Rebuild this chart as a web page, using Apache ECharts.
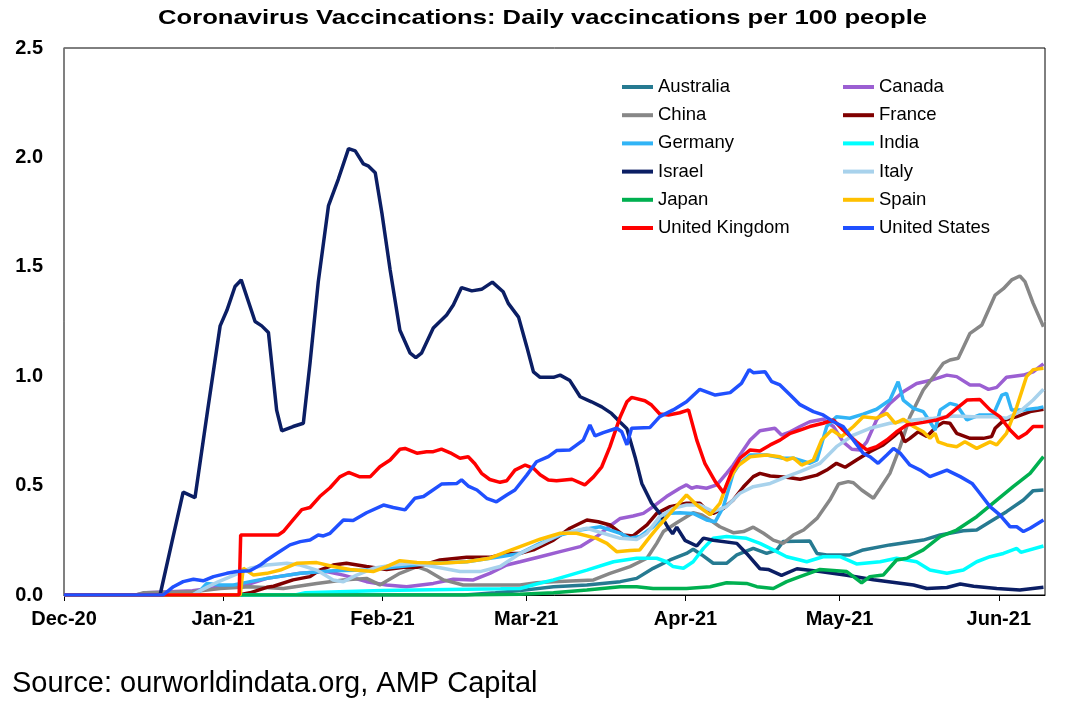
<!DOCTYPE html>
<html>
<head>
<meta charset="utf-8">
<script src="https://cdn.jsdelivr.net/npm/echarts@6/dist/echarts.min.js"></script>
<style>
  html, body { margin: 0; padding: 0; background: #fff; }
  #chart { width: 1073px; height: 715px; }
</style>
</head>
<body>
<div id="chart"></div>
<script>
// x values are days since 1 Dec 2020
const monthDays = [0, 31, 62, 90, 121, 151, 182]
const monthLabels = ['Dec-20', 'Jan-21', 'Feb-21', 'Mar-21', 'Apr-21', 'May-21', 'Jun-21']

const countries = ['Australia', 'Canada', 'China', 'France', 'Germany', 'India',
    'Israel', 'Italy', 'Japan', 'Spain', 'United Kingdom', 'United States']
const colors = ['#267a91', '#9b5fd2', '#878787', '#800000', '#31b4f6', '#00ffff',
    '#0b1e64', '#a8d2ec', '#00b050', '#ffc000', '#ff0000', '#2050ff']

const australia = [[0,0],[78,0],[84,0.01],[88.8,0.02],[95.3,0.038],[101.8,0.046],[108.3,0.061],[111.5,0.076],[114.7,0.122],[118,0.16],[121.2,0.19],[122.5,0.209],[124.2,0.183],[126.4,0.145],[129,0.145],[131,0.183],[134.2,0.213],[136.8,0.19],[138.8,0.206],[140,0.244],[145.2,0.247],[146.6,0.19],[148.5,0.183],[153,0.183],[155.6,0.206],[160.8,0.229],[167.3,0.251],[170.6,0.274],[175.1,0.294],[177.7,0.297],[180.3,0.335],[183.5,0.381],[186.8,0.434],[188.7,0.477],[190.7,0.48]]

const canada = [[0,0],[14,0],[16,0.01],[25,0.02],[30,0.035],[36,0.05],[39.5,0.076],[46,0.099],[51.1,0.107],[54.4,0.091],[58.9,0.061],[62.8,0.046],[66.7,0.038],[71.9,0.053],[75.8,0.072],[79.7,0.069],[82.9,0.099],[86.2,0.137],[88.8,0.152],[92.7,0.175],[96.6,0.198],[100.5,0.221],[103.7,0.267],[105.7,0.305],[108.3,0.35],[110.8,0.361],[112.8,0.373],[114.7,0.404],[117.3,0.45],[119.9,0.488],[121.2,0.503],[122.2,0.488],[123.2,0.495],[125.1,0.488],[127.1,0.503],[129,0.556],[130.3,0.594],[131.6,0.64],[133.6,0.708],[135.5,0.751],[138.4,0.762],[139.7,0.731],[141.4,0.746],[143.3,0.77],[145.2,0.792],[147.8,0.803],[149.8,0.77],[151.7,0.70],[153.4,0.666],[155,0.663],[156.3,0.70],[158.2,0.80],[160.8,0.876],[163.4,0.929],[166,0.967],[168.6,0.98],[171.9,1.005],[173.8,0.998],[176.4,0.96],[178.3,0.96],[180,0.94],[181.6,0.949],[183.5,0.995],[186.8,1.005],[188.7,1.02],[190.7,1.056]]

const china = [[0,0],[14,0],[15.4,0.01],[25,0.015],[30.4,0.03],[36.2,0.038],[42.7,0.03],[49.2,0.053],[54.4,0.069],[58.9,0.076],[61.5,0.046],[65.4,0.099],[68.7,0.13],[70.6,0.114],[73.9,0.069],[77.7,0.046],[84.9,0.046],[88.8,0.046],[92,0.056],[95.3,0.061],[103.1,0.069],[106.3,0.099],[110.2,0.13],[113.5,0.168],[115.4,0.236],[116.7,0.29],[119.3,0.33],[121.2,0.358],[122.5,0.376],[124.2,0.366],[125.8,0.343],[127.7,0.312],[130.3,0.285],[132.3,0.29],[134.2,0.31],[136.2,0.282],[138.1,0.251],[140,0.236],[142,0.274],[144,0.297],[146.6,0.35],[149.1,0.434],[150.8,0.507],[152.7,0.518],[153.7,0.513],[155.3,0.48],[157.6,0.442],[158.9,0.488],[160.8,0.556],[162.8,0.678],[164.7,0.815],[167.3,0.937],[169.3,0.998],[171.2,1.059],[172.5,1.074],[174.1,1.082],[176.4,1.196],[178.7,1.234],[181.3,1.371],[182.9,1.40],[184.5,1.44],[186.1,1.458],[187.1,1.432],[188.7,1.333],[190.7,1.226]]

const france = [[0,0],[34,0],[36.2,0.01],[39.5,0.035],[40.8,0.04],[44.6,0.069],[47.9,0.084],[49.8,0.114],[52.4,0.137],[55,0.145],[58.9,0.13],[62.8,0.117],[66.1,0.127],[68.7,0.127],[73.2,0.16],[78.4,0.172],[82.9,0.172],[86.2,0.19],[88.8,0.19],[91.4,0.206],[95.3,0.251],[98.5,0.305],[101.8,0.343],[104,0.335],[106.3,0.32],[108.9,0.274],[110.8,0.27],[113.5,0.32],[115.4,0.373],[118,0.404],[121.2,0.419],[123.8,0.419],[125.1,0.389],[126.4,0.373],[128.4,0.396],[130.3,0.434],[132.3,0.495],[134.2,0.541],[135.5,0.556],[137.5,0.544],[140.7,0.538],[143.3,0.529],[146.6,0.548],[148.5,0.571],[150.4,0.602],[152.1,0.584],[154.3,0.617],[156.9,0.655],[159.5,0.686],[161.5,0.724],[162.8,0.751],[163.7,0.70],[164.7,0.716],[166.3,0.746],[168,0.724],[169.9,0.77],[171.2,0.789],[172.5,0.785],[173.8,0.739],[176.4,0.716],[179,0.716],[180.6,0.724],[181.3,0.762],[182.9,0.797],[185.5,0.815],[188.1,0.838],[190.7,0.849]]

const germany = [[0,0],[25,0],[26.5,0.02],[27.8,0.053],[30.4,0.046],[33,0.046],[36,0.06],[39.5,0.076],[46,0.099],[52.4,0.111],[58.9,0.114],[65.4,0.13],[71.9,0.145],[78.4,0.152],[84.9,0.175],[88.8,0.19],[92.7,0.236],[96.6,0.274],[100.5,0.297],[104.4,0.312],[108.3,0.282],[110.2,0.259],[112.1,0.267],[114.7,0.312],[117.3,0.373],[119.9,0.376],[122.5,0.373],[125.1,0.343],[126.8,0.335],[128.4,0.404],[130.3,0.556],[131.6,0.602],[133.6,0.64],[136.8,0.64],[140,0.625],[142,0.625],[145.2,0.602],[146.6,0.617],[148.5,0.77],[150.4,0.815],[153,0.808],[155.6,0.827],[158.2,0.849],[160.8,0.891],[162.4,0.975],[163.4,0.891],[165.4,0.853],[167.3,0.838],[168.6,0.792],[169.6,0.754],[170.6,0.846],[172.5,0.876],[173.8,0.868],[175.8,0.80],[178.3,0.823],[180.9,0.823],[182.6,0.914],[183.5,0.922],[184.5,0.846],[186.8,0.846],[189.4,0.853],[190.7,0.86]]

const india = [[0,0],[45,0],[47,0.01],[62,0.02],[75,0.025],[85,0.028],[88.8,0.03],[92,0.05],[95.3,0.069],[101.8,0.114],[107,0.152],[111.5,0.168],[115.4,0.168],[117.3,0.152],[118.6,0.13],[120.6,0.122],[122.5,0.152],[124.5,0.213],[126.4,0.259],[129,0.267],[132.9,0.259],[135.5,0.236],[138.1,0.206],[140.7,0.175],[143.3,0.16],[144.6,0.152],[147.8,0.175],[151.1,0.175],[154.3,0.142],[158.9,0.152],[162.1,0.168],[166,0.152],[168.6,0.114],[171.9,0.099],[175.1,0.114],[177.7,0.152],[180.3,0.175],[182.9,0.19],[185.5,0.213],[186.3,0.195],[190.7,0.224]]

const israel = [[0,0],[18.7,0],[21,0.24],[23.2,0.47],[25.5,0.445],[28,0.85],[30.4,1.23],[31.7,1.30],[33.3,1.41],[34.5,1.44],[37.2,1.25],[38.5,1.23],[39.8,1.20],[41.4,0.845],[42.4,0.75],[44.6,0.77],[46.6,0.785],[47.9,1.06],[49.5,1.43],[51.5,1.78],[53.4,1.90],[55.4,2.04],[56.7,2.03],[58.3,1.97],[59.3,1.96],[60.6,1.93],[61.9,1.745],[63.5,1.485],[65.4,1.21],[67.4,1.105],[68.5,1.085],[69.6,1.105],[71.9,1.22],[74.5,1.28],[75.8,1.325],[77.4,1.405],[79.4,1.39],[81.3,1.397],[83.4,1.43],[85.5,1.386],[86.5,1.333],[88.5,1.27],[90.1,1.135],[91.4,1.02],[92.7,0.995],[95.3,0.995],[96.6,1.005],[98.5,0.98],[100.5,0.906],[102.7,0.883],[104.7,0.86],[106.6,0.83],[108.3,0.79],[109.6,0.76],[111.2,0.63],[112.5,0.51],[114.4,0.42],[116,0.373],[117.7,0.305],[118.5,0.28],[119.3,0.31],[120.9,0.25],[123.2,0.224],[124.5,0.26],[126.4,0.25],[131,0.236],[132.9,0.19],[135.5,0.12],[137.1,0.117],[139.7,0.09],[142.7,0.12],[147.2,0.107],[152.4,0.09],[157.6,0.07],[165.4,0.046],[168,0.03],[171.9,0.034],[174.5,0.05],[177.1,0.04],[181.6,0.03],[186.1,0.023],[190.7,0.035]]

const italy = [[0,0],[25,0],[26.5,0.02],[30,0.06],[33,0.09],[36.2,0.122],[39.5,0.137],[43.4,0.145],[46,0.137],[49.2,0.114],[52.4,0.069],[54.4,0.061],[57,0.091],[60.2,0.122],[64.1,0.137],[68,0.145],[71.9,0.13],[77.1,0.107],[81,0.107],[84.9,0.13],[88.8,0.19],[92.7,0.232],[96.6,0.279],[101.8,0.305],[105,0.282],[108.3,0.259],[111.5,0.254],[113.5,0.282],[116,0.358],[118.6,0.396],[121.2,0.411],[123.8,0.411],[126.4,0.381],[129,0.404],[131.6,0.465],[134.2,0.495],[137.5,0.51],[140.7,0.541],[143.3,0.564],[147.2,0.602],[150.4,0.678],[153.7,0.731],[156.9,0.762],[160.8,0.785],[165.4,0.80],[169.3,0.808],[173.2,0.818],[177.1,0.815],[180.9,0.815],[183.5,0.808],[186.1,0.838],[188.7,0.891],[190.7,0.94]]

const japan = [[0,0],[78,0],[88.8,0.003],[95.3,0.01],[101.8,0.023],[108.3,0.038],[111.5,0.038],[114.7,0.03],[121.2,0.03],[125.8,0.038],[129,0.056],[132.9,0.053],[134.9,0.038],[138.1,0.03],[140.7,0.061],[143.3,0.084],[147.2,0.117],[152.4,0.107],[153.7,0.084],[155.3,0.056],[156.9,0.084],[159.5,0.091],[162.1,0.16],[164.1,0.168],[167.3,0.206],[170.6,0.267],[173.8,0.297],[177.7,0.358],[181.6,0.434],[184.8,0.495],[188.1,0.556],[190.7,0.632]]

const spain = [[0,0],[34.3,0],[34.9,0.122],[36.9,0.091],[39.5,0.099],[42.1,0.114],[45.3,0.145],[49.2,0.148],[52.4,0.13],[55.7,0.117],[60.2,0.107],[62.8,0.13],[65.4,0.157],[68.7,0.149],[73.2,0.145],[78.4,0.152],[82.9,0.168],[86.2,0.198],[88.8,0.221],[92.7,0.255],[96.6,0.282],[99.8,0.282],[103.7,0.259],[105.7,0.236],[107.6,0.198],[110.2,0.203],[112.1,0.206],[114.1,0.267],[116,0.32],[118.6,0.389],[121.2,0.457],[123.2,0.411],[125.8,0.366],[127.7,0.419],[129,0.503],[131,0.587],[133.6,0.632],[136.8,0.64],[139.4,0.632],[140.7,0.617],[142,0.627],[143.6,0.594],[145.9,0.617],[147.5,0.708],[149.5,0.754],[151.4,0.724],[153.7,0.77],[155.6,0.815],[158.2,0.808],[160.2,0.83],[161.8,0.785],[163.4,0.803],[165.4,0.77],[167.3,0.746],[168.6,0.716],[169.6,0.739],[170.2,0.70],[171.9,0.686],[173.8,0.678],[175.4,0.70],[177.7,0.67],[180.3,0.70],[181.6,0.686],[183.5,0.739],[185.5,0.86],[187.4,0.998],[188.7,1.03],[190.7,1.036]]

const unitedKingdom = [[0,0],[34.1,0],[34.4,0.274],[41.7,0.274],[42.7,0.29],[44.6,0.343],[46.3,0.39],[47.9,0.40],[49.8,0.45],[51.8,0.49],[53.7,0.54],[55.4,0.56],[57.6,0.54],[59.6,0.54],[61.5,0.586],[63.5,0.617],[65.4,0.666],[66.4,0.67],[68.7,0.648],[70.6,0.655],[71.9,0.655],[73.5,0.667],[75.2,0.65],[77.1,0.625],[78.7,0.632],[80,0.60],[81.3,0.556],[82.9,0.528],[84.9,0.515],[86.2,0.522],[87.8,0.571],[89.8,0.594],[91.4,0.579],[92.7,0.55],[94.3,0.526],[95.9,0.522],[98.9,0.529],[101.4,0.503],[103.1,0.54],[104.7,0.586],[106.3,0.678],[108.3,0.815],[109.6,0.883],[110.5,0.903],[113.1,0.888],[114.4,0.868],[116,0.827],[117.7,0.823],[119.9,0.833],[121.6,0.846],[123.2,0.708],[124.8,0.60],[126.8,0.518],[128.4,0.468],[130,0.564],[131.6,0.625],[133.6,0.663],[135.5,0.658],[137.5,0.686],[139.4,0.708],[141.4,0.739],[143.3,0.754],[145.2,0.77],[147.8,0.785],[149.8,0.80],[151.7,0.754],[154.3,0.70],[156.3,0.663],[158.2,0.678],[160.2,0.708],[162.1,0.746],[164.1,0.777],[167.3,0.789],[169.9,0.80],[171.9,0.815],[173.8,0.853],[175.8,0.891],[178.3,0.894],[180.3,0.846],[182.2,0.815],[184.2,0.754],[185.8,0.716],[187.4,0.739],[188.7,0.77],[190.7,0.77]]

const unitedStates = [[0,0],[19.3,0],[21.3,0.038],[23.2,0.061],[25.2,0.072],[27.1,0.065],[29.1,0.084],[31.7,0.099],[33.6,0.107],[36.2,0.111],[38.2,0.137],[39.5,0.16],[41.4,0.19],[44,0.229],[46,0.244],[47.9,0.251],[49.5,0.274],[50.5,0.27],[51.8,0.282],[54.4,0.343],[56.3,0.34],[58.9,0.376],[62.2,0.411],[64.1,0.40],[66.4,0.389],[68.3,0.442],[70,0.45],[73.5,0.507],[76.5,0.51],[77.4,0.526],[78.7,0.498],[80.4,0.48],[82.3,0.442],[84.2,0.426],[86.2,0.457],[87.8,0.48],[90.1,0.548],[92,0.609],[94.3,0.632],[95.9,0.66],[98.5,0.663],[101.1,0.708],[102.4,0.777],[103.4,0.727],[105,0.742],[107.6,0.762],[108.6,0.746],[109.6,0.686],[110.5,0.762],[114.1,0.766],[116,0.815],[118.6,0.846],[121.2,0.883],[123.8,0.94],[126.8,0.914],[129.7,0.925],[131.9,0.967],[133.4,1.03],[134.2,1.016],[136.5,1.02],[137.8,0.975],[139.4,0.96],[141.4,0.914],[143.3,0.87],[145.9,0.838],[147.8,0.823],[149.8,0.792],[151.7,0.77],[153.7,0.708],[155.6,0.648],[156.9,0.632],[158.5,0.602],[160.2,0.64],[161.5,0.67],[162.8,0.648],[164.7,0.594],[166.7,0.571],[168.6,0.541],[171.9,0.571],[174.5,0.541],[176.8,0.51],[178.3,0.465],[180.3,0.404],[182.2,0.366],[184.2,0.312],[185.5,0.312],[186.8,0.29],[188.1,0.305],[190.7,0.343]]

const seriesValues = [australia, canada, china, france, germany, india,
    israel, italy, japan, spain, unitedKingdom, unitedStates]

const font = '"Liberation Sans", Arial, sans-serif'

const chart = echarts.init(document.getElementById('chart'))

const legendBase = {
    orient: 'vertical',
    top: 77,
    padding: 0,
    itemWidth: 31,
    itemHeight: 4,
    itemGap: 8.2,
    icon: 'rect',
    selectedMode: false,
    textStyle: { fontFamily: font, fontSize: 18.5, color: '#000', lineHeight: 20 }
}

chart.setOption({
    animation: false,
    color: colors,
    graphic: [
        {
            type: 'text',
            left: 158,
            top: 8,
            scaleX: 1.25,
            style: {
                text: 'Coronavirus Vaccincations: Daily vaccincations per 100 people',
                font: 'bold 20.5px ' + font,
                fill: '#000'
            }
        },
        {
            type: 'text',
            left: 12,
            top: 669,
            style: {
                text: 'Source: ourworldindata.org, AMP Capital',
                font: '29px ' + font,
                fill: '#000'
            }
        }
    ],
    legend: [
        Object.assign({}, legendBase, {
            left: 622,
            data: countries.filter((c, i) => i % 2 === 0)
        }),
        Object.assign({}, legendBase, {
            left: 843,
            data: countries.filter((c, i) => i % 2 === 1)
        })
    ],
    grid: {
        left: 64,
        right: 28,
        top: 48,
        bottom: 120,
        show: true,
        borderColor: '#000',
        borderWidth: 1
    },
    xAxis: {
        type: 'value',
        min: 0,
        max: 191,
        splitLine: { show: false },
        axisLine: { lineStyle: { color: '#000', width: 1 } },
        axisTick: {
            show: true,
            length: 6,
            customValues: monthDays,
            lineStyle: { color: '#000' }
        },
        axisLabel: {
            customValues: monthDays,
            margin: 14,
            fontFamily: font,
            fontSize: 20,
            fontWeight: 'bold',
            color: '#000',
            formatter: (v) => monthLabels[monthDays.indexOf(v)]
        }
    },
    yAxis: {
        type: 'value',
        min: 0,
        max: 2.5,
        interval: 0.5,
        splitLine: { show: false },
        axisLine: { show: true, lineStyle: { color: '#808080', width: 1.5 } },
        axisTick: { show: false },
        axisLabel: {
            margin: 21,
            fontFamily: font,
            fontSize: 20,
            fontWeight: 'bold',
            color: '#000',
            formatter: (v) => v.toFixed(1)
        }
    },
    series: countries.map((name, i) => ({
        name: name,
        type: 'line',
        data: seriesValues[i],
        showSymbol: false,
        symbol: 'none',
        lineStyle: { width: 3.5, color: colors[i] },
        itemStyle: { color: colors[i] }
    }))
})
</script>
</body>
</html>
